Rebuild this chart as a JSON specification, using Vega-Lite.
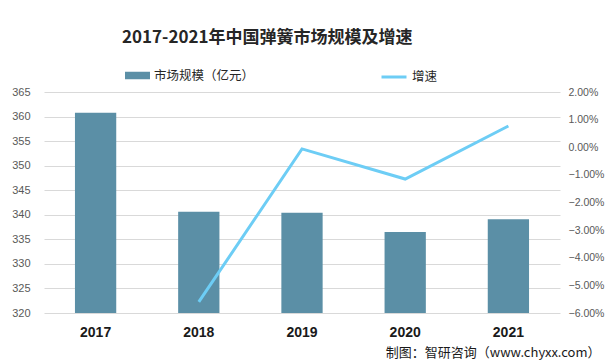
{
  "$schema": "https://vega.github.io/schema/vega-lite/v6.json",
  "width": 516,
  "height": 221,
  "autosize": {"type": "none"},
  "padding": {"left": 44, "top": 92, "right": 45, "bottom": 51},
  "background": "white",
  "title": {
    "text": "2017-2021年中国弹簧市场规模及增速",
    "anchor": "start",
    "frame": "group",
    "dx": 78,
    "offset": 16,
    "font": "Noto Sans CJK SC",
    "fontSize": 17,
    "fontWeight": "bold",
    "color": "#262626"
  },
  "data": {
    "values": [
      {"year": "2017", "scale": 360.8, "growth": null},
      {"year": "2018", "scale": 340.6, "growth": -0.056},
      {"year": "2019", "scale": 340.4, "growth": -0.0006},
      {"year": "2020", "scale": 336.5, "growth": -0.0115},
      {"year": "2021", "scale": 339.1, "growth": 0.0077}
    ]
  },
  "encoding": {
    "x": {
      "field": "year",
      "type": "ordinal",
      "scale": {"paddingInner": 0.6, "paddingOuter": 0.3},
      "axis": {
        "labelAngle": 0,
        "labelFont": "Liberation Sans",
        "labelFontSize": 14,
        "labelFontWeight": "bold",
        "labelColor": "#1a1a1a",
        "labelPadding": 12,
        "domain": false,
        "ticks": false,
        "title": "制图：智研咨询（www.chyxx.com）",
        "titleFont": "Noto Sans CJK SC",
        "titleFontSize": 13,
        "titleFontWeight": "normal",
        "titleColor": "#1a1a1a",
        "titleAlign": "right",
        "titleAnchor": "end",
        "titleX": 556,
        "titleY": 46,
        "titleBaseline": "bottom"
      }
    }
  },
  "layer": [
    {
      "mark": {"type": "bar", "clip": true},
      "encoding": {
        "y": {
          "field": "scale",
          "type": "quantitative",
          "scale": {"domain": [320, 365], "zero": false, "nice": false},
          "axis": {
            "values": [320, 325, 330, 335, 340, 345, 350, 355, 360, 365],
            "title": null,
            "domain": false,
            "ticks": false,
            "labelPadding": 14,
            "labelFont": "Liberation Sans",
            "labelFontSize": 11,
            "labelColor": "#595959",
            "gridColor": "#d9d9d9"
          }
        },
        "fill": {
          "datum": "市场规模（亿元）",
          "scale": {"range": ["#5b8fa6"]},
          "legend": {
            "orient": "none",
            "legendX": 81,
            "legendY": -29,
            "title": null,
            "symbolType": "M-1,-0.3H1V0.3H-1Z",
            "symbolSize": 625,
            "symbolStrokeWidth": 0,
            "labelFont": "Noto Sans CJK SC",
            "labelFontSize": 12.5,
            "labelColor": "#262626",
            "padding": 0
          }
        }
      }
    },
    {
      "mark": {"type": "line", "strokeWidth": 3},
      "transform": [{"filter": "datum.growth != null"}],
      "encoding": {
        "y": {
          "field": "growth",
          "type": "quantitative",
          "scale": {"domain": [-0.06, 0.02], "nice": false, "zero": false},
          "axis": {
            "orient": "right",
            "values": [-0.06, -0.05, -0.04, -0.03, -0.02, -0.01, 0, 0.01, 0.02],
            "format": ".2%",
            "title": null,
            "domain": false,
            "ticks": false,
            "grid": false,
            "labelPadding": 8,
            "labelFont": "Liberation Sans",
            "labelFontSize": 10.5,
            "labelColor": "#595959"
          }
        },
        "stroke": {
          "datum": "增速",
          "scale": {"range": ["#6dcdf5"]},
          "legend": {
            "orient": "none",
            "legendX": 336,
            "legendY": -29,
            "title": null,
            "symbolType": "stroke",
            "symbolSize": 625,
            "symbolStrokeWidth": 3,
            "labelFont": "Noto Sans CJK SC",
            "labelFontSize": 12.5,
            "labelColor": "#262626",
            "padding": 0
          }
        }
      }
    }
  ],
  "resolve": {"scale": {"y": "independent"}},
  "config": {"view": {"stroke": null}}
}
